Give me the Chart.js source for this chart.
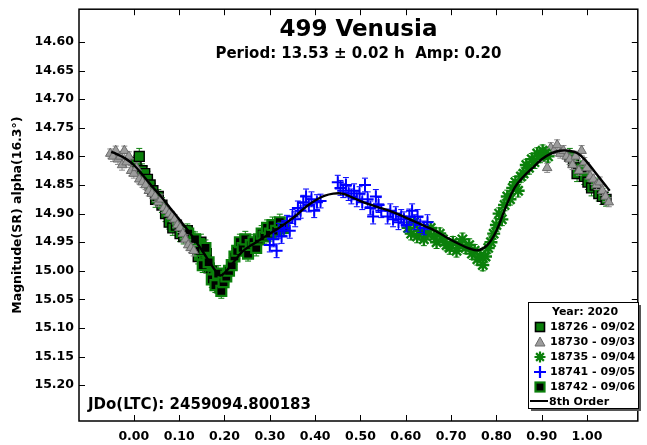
<!DOCTYPE html>
<html>
<head>
<meta charset="utf-8">
<script src="https://cdn.jsdelivr.net/npm/chart.js"></script>
<style>
  html, body { margin: 0; padding: 0; background: #fff; }
  #wrap { width: 647px; height: 445px; }
</style>
</head>
<body>
<div id="wrap"><canvas id="c" width="647" height="445"></canvas></div>
<script>
// ---- Lightcurve data: phase, reduced magnitude and 1-sigma error per session ----
const xTickValues = [0.00, 0.10, 0.20, 0.30, 0.40, 0.50, 0.60, 0.70, 0.80, 0.90, 1.00];
const yTickValues = [14.60, 14.65, 14.70, 14.75, 14.80, 14.85, 14.90, 14.95, 15.00, 15.05, 15.10, 15.15, 15.20];

const s18726Phase = [0.005,0.012,0.018,0.024,0.030,0.036,0.042,0.048,0.054,0.062,0.070,0.078,0.086,0.094,0.102,0.110,0.118,0.130,0.136,0.142,0.148,0.154,0.160,0.166,0.172,0.178,0.184,0.190,0.962,0.970,0.978,0.986,0.994,1.002,1.010,1.018,1.026,1.034,1.042];
const s18726Mag   = [14.810,14.800,14.825,14.830,14.840,14.850,14.860,14.875,14.870,14.885,14.900,14.915,14.925,14.920,14.935,14.940,14.930,14.945,14.960,14.975,14.950,14.985,14.970,14.995,15.000,15.010,15.020,15.030,14.800,14.810,14.830,14.820,14.835,14.845,14.855,14.850,14.865,14.870,14.875];
const s18726Err   = [0.012,0.014,0.012,0.013,0.014,0.012,0.013,0.014,0.012,0.013,0.014,0.012,0.013,0.012,0.014,0.013,0.012,0.014,0.012,0.013,0.014,0.012,0.013,0.014,0.012,0.013,0.014,0.014,0.014,0.013,0.014,0.012,0.014,0.013,0.014,0.012,0.013,0.014,0.012];

const s18730Phase = [-0.052,-0.046,-0.040,-0.035,-0.030,-0.026,-0.021,-0.016,-0.011,-0.006,0.000,0.006,0.012,0.019,0.026,0.033,0.040,0.047,0.054,0.060,0.066,0.072,0.078,0.084,0.090,0.096,0.102,0.108,0.114,0.120,0.126,0.132,0.905,0.912,0.920,0.927,0.934,0.941,0.948,0.955,0.962,0.968,0.975,0.982,0.988,0.994,1.000,1.007,1.014,1.021,1.028,1.034,1.041,1.048];
const s18730Mag   = [14.795,14.800,14.790,14.805,14.800,14.815,14.790,14.810,14.800,14.825,14.830,14.820,14.840,14.845,14.850,14.860,14.865,14.870,14.880,14.875,14.890,14.895,14.900,14.905,14.910,14.920,14.925,14.935,14.945,14.955,14.960,14.965,14.800,14.820,14.785,14.790,14.780,14.795,14.790,14.800,14.805,14.815,14.800,14.825,14.790,14.810,14.820,14.835,14.840,14.850,14.845,14.860,14.870,14.880];
const s18730Err   = [0.008,0.009,0.008,0.009,0.008,0.009,0.008,0.009,0.008,0.009,0.008,0.009,0.008,0.009,0.008,0.009,0.008,0.009,0.008,0.009,0.008,0.009,0.008,0.009,0.008,0.009,0.008,0.009,0.008,0.009,0.008,0.009,0.009,0.008,0.009,0.008,0.009,0.008,0.009,0.008,0.009,0.008,0.009,0.008,0.009,0.008,0.009,0.008,0.009,0.008,0.009,0.008,0.009,0.008];

const s18735Phase = [0.605,0.612,0.618,0.625,0.632,0.640,0.648,0.655,0.662,0.668,0.675,0.682,0.690,0.697,0.704,0.712,0.718,0.725,0.732,0.740,0.746,0.752,0.758,0.764,0.770,0.776,0.782,0.788,0.794,0.800,0.806,0.812,0.818,0.824,0.830,0.836,0.842,0.848,0.854,0.860,0.866,0.872,0.878,0.884,0.890,0.896,0.902,0.908,0.914];
const s18735Mag   = [14.925,14.935,14.915,14.940,14.930,14.945,14.935,14.925,14.940,14.950,14.935,14.945,14.955,14.960,14.950,14.965,14.955,14.945,14.960,14.955,14.970,14.965,14.980,14.975,14.990,14.975,14.960,14.950,14.935,14.920,14.900,14.910,14.885,14.870,14.875,14.855,14.845,14.860,14.835,14.830,14.815,14.820,14.805,14.810,14.795,14.800,14.790,14.795,14.800];
const s18735Err   = [0.010,0.011,0.010,0.011,0.010,0.011,0.010,0.011,0.010,0.011,0.010,0.011,0.010,0.011,0.010,0.011,0.010,0.011,0.010,0.011,0.010,0.011,0.010,0.011,0.010,0.011,0.010,0.011,0.010,0.011,0.010,0.011,0.010,0.011,0.010,0.011,0.010,0.011,0.010,0.011,0.010,0.011,0.010,0.011,0.010,0.011,0.010,0.011,0.010];

const s18741Phase = [0.300,0.308,0.315,0.320,0.326,0.332,0.338,0.344,0.350,0.356,0.362,0.368,0.374,0.380,0.386,0.392,0.398,0.404,0.412,0.450,0.456,0.462,0.468,0.474,0.480,0.486,0.492,0.498,0.504,0.510,0.516,0.522,0.528,0.534,0.540,0.546,0.560,0.566,0.572,0.578,0.584,0.590,0.596,0.602,0.608,0.614,0.620,0.626,0.632,0.640,0.648];
const s18741Mag   = [14.955,14.945,14.965,14.930,14.940,14.925,14.915,14.930,14.905,14.910,14.890,14.895,14.880,14.870,14.885,14.875,14.895,14.880,14.878,14.845,14.855,14.860,14.850,14.865,14.870,14.860,14.875,14.865,14.880,14.850,14.875,14.890,14.905,14.870,14.885,14.895,14.905,14.895,14.910,14.900,14.915,14.905,14.910,14.920,14.905,14.895,14.915,14.905,14.920,14.925,14.915];
const s18741Err   = [0.012,0.013,0.012,0.013,0.012,0.013,0.012,0.013,0.012,0.013,0.012,0.013,0.012,0.013,0.012,0.013,0.012,0.013,0.012,0.012,0.013,0.012,0.013,0.012,0.013,0.012,0.013,0.012,0.013,0.012,0.013,0.012,0.013,0.012,0.013,0.012,0.013,0.012,0.013,0.012,0.013,0.012,0.013,0.012,0.013,0.012,0.013,0.012,0.013,0.012,0.013];

const s18742Phase = [0.120,0.128,0.135,0.145,0.152,0.158,0.165,0.172,0.180,0.186,0.193,0.198,0.204,0.210,0.216,0.222,0.228,0.234,0.240,0.246,0.252,0.258,0.264,0.270,0.276,0.282,0.288,0.294,0.300,0.306,0.314,0.322,0.330];
const s18742Mag   = [14.935,14.950,14.945,14.965,14.990,14.960,14.985,15.015,15.025,15.005,15.035,15.020,15.010,15.000,14.990,14.975,14.965,14.950,14.960,14.945,14.970,14.955,14.950,14.960,14.945,14.935,14.940,14.925,14.935,14.920,14.930,14.915,14.925];
const s18742Err   = [0.013,0.014,0.013,0.014,0.013,0.014,0.013,0.014,0.013,0.014,0.013,0.014,0.013,0.014,0.013,0.014,0.013,0.014,0.013,0.014,0.013,0.014,0.013,0.014,0.013,0.014,0.013,0.014,0.013,0.014,0.013,0.014,0.013];

// 8th order Fourier fit, sampled along phase
const fitPhase = [-0.05,-0.04,-0.02,0.00,0.02,0.04,0.06,0.08,0.10,0.12,0.14,0.16,0.18,0.19,0.20,0.22,0.24,0.26,0.28,0.30,0.32,0.34,0.36,0.38,0.40,0.42,0.44,0.46,0.48,0.50,0.52,0.54,0.56,0.58,0.60,0.62,0.64,0.66,0.68,0.70,0.72,0.74,0.76,0.78,0.80,0.82,0.84,0.86,0.88,0.90,0.92,0.94,0.96,0.98,1.00,1.02,1.04,1.05];
const fitMag   = [14.792,14.795,14.803,14.815,14.833,14.852,14.870,14.890,14.910,14.930,14.952,14.976,15.000,15.008,15.004,14.985,14.966,14.955,14.945,14.935,14.925,14.914,14.902,14.888,14.877,14.869,14.865,14.865,14.871,14.878,14.884,14.889,14.894,14.900,14.907,14.914,14.921,14.928,14.937,14.946,14.954,14.961,14.964,14.955,14.930,14.890,14.855,14.835,14.820,14.805,14.795,14.790,14.790,14.795,14.810,14.830,14.850,14.860];

const legendTitle = 'Year: 2020';
const jdText = 'JDo(LTC): 2459094.800183';
const titleText = '499 Venusia';
const subtitleText = 'Period: 13.53 \u00b1 0.02 h  Amp: 0.20';
const yTitle = 'Magnitude(SR) alpha(16.3\u00b0)';

const FONT = '"DejaVu Sans", "Liberation Sans", Arial, sans-serif';
const GREEN = '#0b800b';
const GRAY = '#9c9c9c';
const BLUE = '#0000ff';

function pts(px, py, pe) {
  return px.map((p, i) => ({ x: p, y: py[i], e: pe ? pe[i] : 0 }));
}

const datasets = [
  { label: '8th Order', data: pts(fitPhase, fitMag), showLine: true, pointRadius: 0,
    borderColor: '#000', borderWidth: 2.4, tension: 0.4, order: 0, legendKind: 'line' },
  { label: '18741 - 09/05', data: pts(s18741Phase, s18741Mag, s18741Err), pointStyle: 'cross',
    pointRadius: 6, borderColor: BLUE, borderWidth: 2, backgroundColor: BLUE, order: 1,
    errColor: BLUE, legendKind: 'cross' },
  { label: '18735 - 09/04', data: pts(s18735Phase, s18735Mag, s18735Err), pointStyle: 'star',
    pointRadius: 6.5, borderColor: GREEN, borderWidth: 2.4, backgroundColor: GREEN, order: 2,
    errColor: GREEN, legendKind: 'star' },
  { label: '18730 - 09/03', data: pts(s18730Phase, s18730Mag, s18730Err), pointStyle: 'triangle',
    pointRadius: 5.5, borderColor: '#6a6a6a', borderWidth: 1, backgroundColor: GRAY, order: 3,
    errColor: '#8a8a8a', legendKind: 'triangle' },
  { label: '18742 - 09/06', data: pts(s18742Phase, s18742Mag, s18742Err), pointStyle: 'rect',
    pointRadius: 7, borderColor: GREEN, borderWidth: 2.2, backgroundColor: '#000', order: 4,
    errColor: GREEN, legendKind: 'squareDark' },
  { label: '18726 - 09/02', data: pts(s18726Phase, s18726Mag, s18726Err), pointStyle: 'rect',
    pointRadius: 7, borderColor: '#000', borderWidth: 1.4, backgroundColor: GREEN, order: 5,
    errColor: GREEN, legendKind: 'squareGreen' }
];

// Vertical error bars with caps, drawn just under each dataset's markers
const errorBars = {
  id: 'errorBars',
  beforeDatasetDraw(chart, args) {
    const ds = chart.data.datasets[args.index];
    if (!ds.errColor) return;
    const xs = chart.scales.x, ys = chart.scales.y, ctx = chart.ctx;
    ctx.save();
    ctx.strokeStyle = ds.errColor;
    ctx.lineWidth = 1;
    ds.data.forEach(d => {
      const x = xs.getPixelForValue(d.x);
      const y1 = ys.getPixelForValue(d.y - d.e);
      const y2 = ys.getPixelForValue(d.y + d.e);
      ctx.beginPath();
      ctx.moveTo(x, y1); ctx.lineTo(x, y2);
      ctx.moveTo(x - 3, y1); ctx.lineTo(x + 3, y1);
      ctx.moveTo(x - 3, y2); ctx.lineTo(x + 3, y2);
      ctx.stroke();
    });
    ctx.restore();
  }
};

function drawMarker(ctx, kind, x, y) {
  ctx.save();
  if (kind === 'squareGreen') {
    ctx.fillStyle = GREEN; ctx.fillRect(x - 4.5, y - 4.5, 9, 9);
    ctx.strokeStyle = '#000'; ctx.lineWidth = 1.6; ctx.strokeRect(x - 4.5, y - 4.5, 9, 9);
  } else if (kind === 'squareDark') {
    ctx.fillStyle = '#000'; ctx.fillRect(x - 4.5, y - 4.5, 9, 9);
    ctx.strokeStyle = GREEN; ctx.lineWidth = 2.2; ctx.strokeRect(x - 4.5, y - 4.5, 9, 9);
  } else if (kind === 'triangle') {
    ctx.fillStyle = GRAY; ctx.strokeStyle = '#6a6a6a'; ctx.lineWidth = 1;
    ctx.beginPath(); ctx.moveTo(x, y - 5); ctx.lineTo(x + 5, y + 4); ctx.lineTo(x - 5, y + 4); ctx.closePath();
    ctx.fill(); ctx.stroke();
  } else if (kind === 'star') {
    ctx.strokeStyle = GREEN; ctx.lineWidth = 2.2;
    ctx.beginPath();
    for (let k = 0; k < 4; k++) {
      const a = k * Math.PI / 4;
      ctx.moveTo(x - 5.5 * Math.cos(a), y - 5.5 * Math.sin(a));
      ctx.lineTo(x + 5.5 * Math.cos(a), y + 5.5 * Math.sin(a));
    }
    ctx.stroke();
  } else if (kind === 'cross') {
    ctx.strokeStyle = BLUE; ctx.lineWidth = 2.2;
    ctx.beginPath(); ctx.moveTo(x - 6, y); ctx.lineTo(x + 6, y); ctx.moveTo(x, y - 6); ctx.lineTo(x, y + 6); ctx.stroke();
  } else if (kind === 'line') {
    ctx.strokeStyle = '#000'; ctx.lineWidth = 2;
    ctx.beginPath(); ctx.moveTo(x - 10, y); ctx.lineTo(x + 8, y); ctx.stroke();
  }
  ctx.restore();
}

// Frame, inward ticks, titles, epoch note and the boxed legend
const decorations = {
  id: 'decorations',
  afterDraw(chart) {
    const ctx = chart.ctx, a = chart.chartArea;
    const xs = chart.scales.x, ys = chart.scales.y;
    ctx.save();
    ctx.strokeStyle = '#000';
    ctx.lineWidth = 1.5;
    ctx.strokeRect(a.left, a.top, a.right - a.left, a.bottom - a.top);
    ctx.lineWidth = 1;
    ctx.beginPath();
    xTickValues.forEach(v => {
      const x = Math.round(xs.getPixelForValue(v)) + 0.5;
      ctx.moveTo(x, a.bottom); ctx.lineTo(x, a.bottom - 6);
      ctx.moveTo(x, a.top); ctx.lineTo(x, a.top + 6);
    });
    yTickValues.forEach(v => {
      const y = Math.round(ys.getPixelForValue(v)) + 0.5;
      ctx.moveTo(a.left, y); ctx.lineTo(a.left + 6, y);
      ctx.moveTo(a.right, y); ctx.lineTo(a.right - 6, y);
    });
    ctx.stroke();

    const cx = (a.left + a.right) / 2;
    ctx.fillStyle = '#000';
    ctx.textAlign = 'center';
    ctx.textBaseline = 'alphabetic';
    ctx.font = 'bold 23px ' + FONT;
    ctx.fillText(titleText, cx, 36);
    ctx.font = 'bold 15px ' + FONT;
    ctx.fillText(subtitleText, cx, 58);

    ctx.textAlign = 'left';
    ctx.font = 'bold 15px ' + FONT;
    ctx.fillText(jdText, 88, 409);

    // legend box
    const lx = 528, ly = 302, lw = 110, lh = 106;
    ctx.fillStyle = '#555';
    ctx.fillRect(lx + 3, ly + 3, lw, lh);
    ctx.fillStyle = '#fff';
    ctx.fillRect(lx, ly, lw, lh);
    ctx.strokeStyle = '#000';
    ctx.lineWidth = 1;
    ctx.strokeRect(lx + 0.5, ly + 0.5, lw, lh);

    ctx.fillStyle = '#000';
    ctx.font = 'bold 11px ' + FONT;
    ctx.textAlign = 'center';
    ctx.textBaseline = 'middle';
    ctx.fillText(legendTitle, lx + lw / 2 + 2, ly + 10);
    const legendOrder = ['18726 - 09/02', '18730 - 09/03', '18735 - 09/04', '18741 - 09/05', '18742 - 09/06', '8th Order'];
    ctx.textAlign = 'left';
    legendOrder.forEach((lab, i) => {
      const ds = chart.data.datasets.find(d => d.label === lab);
      const y = ly + 25 + i * 15;
      if (ds.legendKind === 'line') {
        drawMarker(ctx, 'line', lx + 12, y - 1);
        ctx.fillStyle = '#000';
        ctx.fillText(lab, lx + 21, y);
      } else {
        drawMarker(ctx, ds.legendKind, lx + 12, y);
        ctx.fillStyle = '#000';
        ctx.fillText(lab, lx + 22, y);
      }
    });
    ctx.restore();
  }
};

new Chart(document.getElementById('c'), {
  type: 'scatter',
  data: { datasets },
  options: {
    responsive: false,
    animation: false,
    layout: { padding: { left: 0, top: 7, right: 6, bottom: 0 } },
    plugins: { legend: { display: false }, tooltip: { enabled: false } },
    scales: {
      x: {
        type: 'linear', min: -0.121, max: 1.112,
        afterBuildTicks: s => { s.ticks = xTickValues.map(v => ({ value: v })); },
        afterFit: s => { s.height = 24; s.paddingLeft = 0; s.paddingRight = 0; },
        grid: { display: false, drawTicks: false },
        border: { display: false },
        ticks: {
          autoSkip: false, maxRotation: 0, padding: 8, color: '#000',
          font: { family: FONT, size: 12.5, weight: 'bold' },
          callback: v => Number(v).toFixed(2)
        }
      },
      y: {
        type: 'linear', reverse: true, min: 14.5426, max: 15.2626,
        afterBuildTicks: s => { s.ticks = yTickValues.map(v => ({ value: v })); },
        afterFit: s => { s.width = 79; s.paddingTop = 0; s.paddingBottom = 0; },
        grid: { display: false, drawTicks: false },
        border: { display: false },
        title: {
          display: true, text: yTitle, color: '#000',
          font: { family: FONT, size: 12.5, weight: 'bold' },
          padding: { top: 10, bottom: 0 }
        },
        ticks: {
          autoSkip: false, padding: 5, color: '#000',
          font: { family: FONT, size: 12.5, weight: 'bold' },
          callback: v => Number(v).toFixed(2)
        }
      }
    }
  },
  plugins: [errorBars, decorations]
});
</script>
</body>
</html>
